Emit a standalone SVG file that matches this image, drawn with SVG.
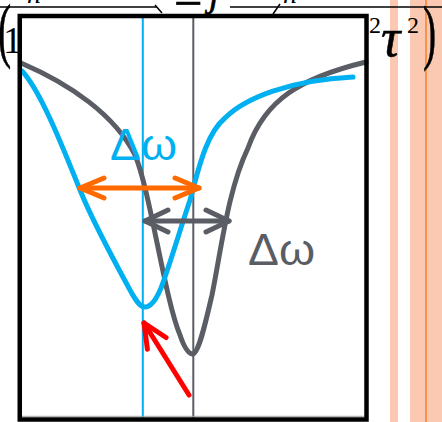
<svg xmlns="http://www.w3.org/2000/svg" width="442" height="422" viewBox="0 0 442 422">
  <style>
    .serif { font-family: "Liberation Serif", "Times New Roman", serif; fill: #000; }
    .ital { font-style: italic; }
    .bar { stroke: #000; stroke-width: 1.5; fill: none; }
    .band { fill: #FBC8B1; }
    .curve { fill: none; stroke-width: 5; stroke-linecap: round; stroke-linejoin: round; }
    .blue { stroke: #00B0F0; }
    .grey { stroke: #5A5D64; }
    .vline { stroke-width: 2; }
    .arrow { fill: none; stroke-width: 5; stroke-linecap: round; }
    .label { font-family: "Liberation Sans", Arial, sans-serif; font-size: 44px; }
  </style>
  <defs>
    <marker id="headOrange" viewBox="-30 -15 35 30" refX="0" refY="0" markerWidth="35" markerHeight="30" markerUnits="userSpaceOnUse" orient="auto-start-reverse">
      <path d="M-24,-10 L0,0 L-24,10" fill="none" stroke="#FF6A00" stroke-width="5" stroke-linecap="round" stroke-linejoin="round"/>
    </marker>
    <marker id="headGrey" viewBox="-30 -15 35 30" refX="0" refY="0" markerWidth="35" markerHeight="30" markerUnits="userSpaceOnUse" orient="auto-start-reverse">
      <path d="M-23,-11 L0,0 L-23,11" fill="none" stroke="#5A5D64" stroke-width="5" stroke-linecap="round" stroke-linejoin="round"/>
    </marker>
    <marker id="headRed" viewBox="-30 -15 35 30" refX="0" refY="0" markerWidth="35" markerHeight="30" markerUnits="userSpaceOnUse" orient="auto">
      <path d="M-24,-11 L0,0 L-24,11" fill="none" stroke="#FF0000" stroke-width="5" stroke-linecap="round" stroke-linejoin="round"/>
    </marker>
  </defs>

  <rect width="442" height="422" fill="#FFFFFF"/>

  <!-- background formula strip -->
  <g id="formula">
    <rect class="band" x="390" y="0" width="8" height="422"/>
    <rect class="band" x="410" y="0" width="32" height="422"/>
    <line x1="426" y1="0" x2="426" y2="422" stroke="#F5832A" stroke-width="1.5"/>
    <line class="bar" x1="0" y1="7" x2="157" y2="7"/>
    <line class="bar" x1="230" y1="7" x2="442" y2="7"/>
    <path class="bar" d="M155,5 L162,13"/>
    <path class="bar" d="M273,14 L280,4"/>
    <text class="serif ital" x="27" y="3" font-size="28">n</text>
    <text class="serif ital" x="283" y="3" font-size="28">n</text>
    <text class="serif" transform="translate(-2,54) scale(0.55,1)" font-size="72" stroke="#000" stroke-width="0.6">(</text>
    <text class="serif" x="3" y="53" font-size="38">1</text>
    <text class="serif" x="174" y="20" font-size="50" stroke="#000" stroke-width="0.8">−</text>
    <text class="serif ital" x="209" y="6" font-size="38" stroke="#000" stroke-width="0.6">j</text>
    <text class="serif" x="369" y="33" font-size="24">2</text>
    <text class="serif ital" x="381" y="56" font-size="54" stroke="#000" stroke-width="0.5">τ</text>
    <text class="serif" x="407" y="33" font-size="24">2</text>
    <text class="serif" transform="translate(423,56) scale(0.55,1)" font-size="72" stroke="#000" stroke-width="0.6">)</text>
  </g>

  <!-- plot frame -->
  <g id="frame-fill">
    <rect x="19.75" y="16" width="346.75" height="403.5" fill="#FFFFFF"/>
  </g>

  <g id="reference-lines">
    <line class="vline blue" x1="142.8" y1="16" x2="142.8" y2="419"/>
    <line class="vline grey" x1="193.3" y1="16" x2="193.3" y2="419"/>
    <line x1="22" y1="416.3" x2="364" y2="416.3" stroke="#A0A0A0" stroke-width="1"/>
  </g>

  <g id="grey-curve">
    <path class="curve grey" d="M21,63 C70,84 115,115 135,155 C150,190 165,300 180,335 C185,350 189,354 193,354 C199,352 205,325 212,295 C222,245 228,190 248,148 C265,100 300,78 366,62"/>
  </g>

  <g id="blue-curve">
    <path class="curve blue" d="M22,71 C40,90 62,145 80,190 C92,220 118,268 130,290 C136,301 140,307 145,307 C151,307 156,300 161,288 C168,270 180,230 190,200 C198,172 205,135 225,118 C245,98 290,80 353,77"/>
  </g>

  <g id="connectors">
    <line class="arrow" stroke="#FF6A00" x1="80" y1="188" x2="199" y2="188" marker-start="url(#headOrange)" marker-end="url(#headOrange)"/>
    <line class="arrow" stroke="#5A5D64" x1="145" y1="221" x2="229" y2="221" marker-start="url(#headGrey)" marker-end="url(#headGrey)"/>
    <line class="arrow" stroke="#FF0000" x1="189" y1="395" x2="144" y2="323" marker-end="url(#headRed)"/>
  </g>

  <g id="label-blue">
    <text class="label" x="110" y="160" fill="#00B0F0" textLength="67" lengthAdjust="spacingAndGlyphs">Δω</text>
  </g>
  <g id="label-grey">
    <text class="label" x="248" y="265" fill="#5A5D64" textLength="67" lengthAdjust="spacingAndGlyphs">Δω</text>
  </g>

  <g id="frame">
    <rect x="19.75" y="16" width="346.75" height="403.5" fill="none" stroke="#000000" stroke-width="4.5"/>
  </g>
</svg>
